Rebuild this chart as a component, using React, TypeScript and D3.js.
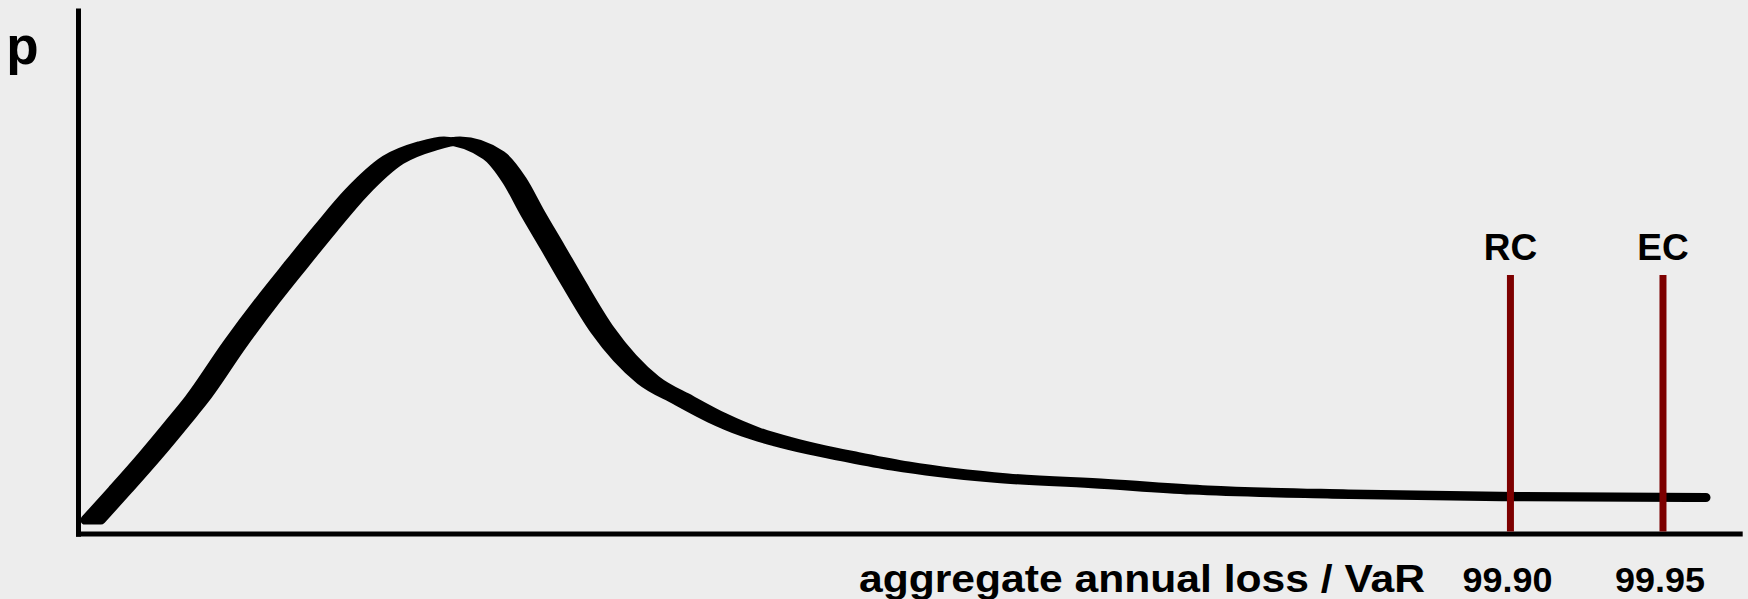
import React from "react";
import * as d3 from "d3";

// ---- data ----
const lossValues = [0.87, 2.5, 4.3, 6.1, 7.12, 9.41, 11.39, 13.02, 14.88, 16.68, 18.91, 20.95, 22.45, 24.95, 26.2, 27.3, 28.5, 29.65, 31.5, 34.25, 36.35, 38.4, 40.4, 42.35, 44.4, 46.4, 49.4, 55.4, 61.4, 67.4, 75.85, 86.05, 97.35];
const densityValues = [0.0266, 0.0837, 0.1484, 0.2169, 0.2568, 0.3615, 0.4452, 0.5099, 0.5822, 0.6488, 0.7116, 0.7382, 0.7477, 0.7205, 0.673, 0.6103, 0.5456, 0.4829, 0.3878, 0.2928, 0.2549, 0.2207, 0.1941, 0.1755, 0.1597, 0.147, 0.1293, 0.1065, 0.096, 0.0837, 0.076, 0.0711, 0.0694];
const markerNames = ["RC", "EC"];
const markerLoss = [86.08, 95.25];
const markerTop = [0.493, 0.493];
const markerTickLabels = ["99.90", "99.95"];
const xAxisTitle = "aggregate annual loss / VaR";
const yAxisTitle = "p";

const W = 1748;
const H = 599;
const FONT = "'Liberation Sans', Arial, Helvetica, sans-serif";
const PEN_HALF = 8;

export default function App() {
  const x = d3.scaleLinear().domain([0, 100]).range([78.5, 1742]);
  const y = d3.scaleLinear().domain([0, 1]).range([534, 8.4]);

  const pts: [number, number][] = lossValues.map((v, i) => [v, densityValues[i]]);
  // band swept by a flat horizontal pen along the density curve
  const band = d3
    .area<[number, number]>()
    .x0((d) => x(d[0]) - PEN_HALF)
    .x1((d) => x(d[0]) + PEN_HALF)
    .y0((d) => y(d[1]))
    .y1((d) => y(d[1]))
    .curve(d3.curveMonotoneX);
  const bandD = band(pts) || "";

  return (
    <svg
      width={W}
      height={H}
      viewBox={`0 0 ${W} ${H}`}
      style={{ position: "absolute", left: 0, top: 0, display: "block", background: "#ededed" }}
    >
      <rect x={0} y={0} width={W} height={H} fill="#ededed" />
      {/* axes */}
      <line x1={x(0)} x2={x(0)} y1={y(0) + 2.8} y2={y(1)} stroke="#000" strokeWidth={5} />
      <line x1={x(0) - 2.5} x2={x(100) + 0.7} y1={y(0)} y2={y(0)} stroke="#000" strokeWidth={5.2} />

      {/* density curve */}
      <path d={bandD} fill="#000" stroke="#000" strokeWidth={9.2} strokeLinejoin="round" />

      {/* quantile markers */}
      {markerNames.map((name, i) => {
        const mx = x(markerLoss[i]);
        return (
          <g key={name}>
            <line x1={mx} x2={mx} y1={y(0) - 2.6} y2={y(markerTop[i])} stroke="#7d0000" strokeWidth={7} />
            <text
              x={mx}
              y={260}
              textAnchor="middle"
              fontFamily={FONT}
              fontWeight="bold"
              fontSize={37}
              fill="#000"
            >
              {name}
            </text>
            <text
              x={mx - 3}
              y={591.5}
              textAnchor="middle"
              fontFamily={FONT}
              fontWeight="bold"
              fontSize={35}
              textLength={90}
              lengthAdjust="spacingAndGlyphs"
              fill="#000"
            >
              {markerTickLabels[i]}
            </text>
          </g>
        );
      })}

      {/* axis titles */}
      <text
        x={859}
        y={591.5}
        fontFamily={FONT}
        fontWeight="bold"
        fontSize={38}
        textLength={566}
        lengthAdjust="spacingAndGlyphs"
        fill="#000"
      >
        {xAxisTitle}
      </text>
      <text x={6.2} y={64.3} fontFamily={FONT} fontWeight="bold" fontSize={53} fill="#000">
        {yAxisTitle}
      </text>
    </svg>
  );
}
